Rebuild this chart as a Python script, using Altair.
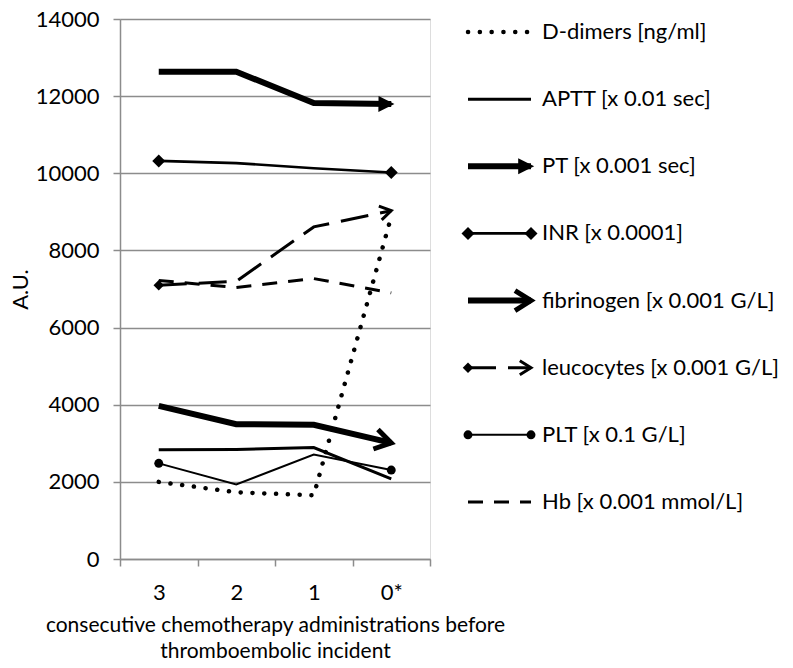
import math
import altair as alt
import pandas as pd

# ---------------- data ----------------
categories = ["3", "2", "1", "0*"]
d_dimers   = [2000, 1730, 1650, 8880]
aptt       = [2830, 2840, 2890, 2080]
pt         = [12635, 12635, 11820, 11795]
inr        = [10320, 10265, 10130, 10020]
fibrinogen = [3970, 3495, 3480, 3010]
leucocytes = [7100, 7200, 8610, 9030]
plt_count  = [2480, 1930, 2710, 2305]
hb         = [7220, 7040, 7270, 6900]

series_keys = ["ddimer", "aptt", "pt", "inr", "fib", "leuco", "plt", "hb"]
series_labels = ["D-dimers [ng/ml]", "APTT [x 0.01 sec]", "PT [x 0.001 sec]",
                 "INR [x 0.0001]", "fibrinogen [x 0.001 G/L]",
                 "leucocytes [x 0.001 G/L]", "PLT [x 0.1 G/L]",
                 "Hb [x 0.001 mmol/L]"]
series_values = [d_dimers, aptt, pt, inr, fibrinogen, leucocytes, plt_count, hb]
y_ticks = [0, 2000, 4000, 6000, 8000, 10000, 12000, 14000]
x_title = ["consecutive chemotherapy administrations before",
           "thromboembolic incident"]
y_title = "A.U."

# ---------------- styles ----------------
W, H = 310, 540
YMAX = 14000
STEP = W / len(categories)
GRAY = "#8c8c8c"
FONT = "Lato"
FS = 22

styles = {
    "ddimer": dict(strokeWidth=4.5, strokeDash=[0.1, 11.7], strokeCap="round"),
    "aptt":   dict(strokeWidth=3),
    "pt":     dict(strokeWidth=6),
    "inr":    dict(strokeWidth=2.7),
    "fib":    dict(strokeWidth=6),
    "leuco":  dict(strokeWidth=3, strokeDash=[28, 12]),
    "plt":    dict(strokeWidth=2),
    "hb":     dict(strokeWidth=3, strokeDash=[15, 11]),
}
TRI = "M-1.6,-1L0.4,0L-1.6,1Z"
CHEV = "M-1.6,-1L0,0L-1.6,1"
arrows = {
    "pt":    dict(shape=TRI, size=256, filled=True, strokeWidth=0),
    "fib":   dict(shape=CHEV, size=400, filled=False, strokeWidth=5),
    "leuco": dict(shape=CHEV, size=196, filled=False, strokeWidth=3),
}
markers = {
    "inr":   [("diamond", 170, "first_last")],
    "plt":   [("circle", 80, "first_last")],
    "leuco": [("diamond", 110, "first")],
}

rows = []
n = len(categories)
for key, vals in zip(series_keys, series_values):
    for i, (c, v) in enumerate(zip(categories, vals)):
        rows.append(dict(series=key, cat=c, idx=i, value=v,
                         first=(i == 0), last=(i == n - 1)))
df = pd.DataFrame(rows)

x_enc = alt.X("cat:N", sort=categories,
              scale=alt.Scale(type="band", domain=categories, paddingInner=0, paddingOuter=0),
              axis=alt.Axis(title=x_title, tickBand="extent", ticks=True, tickSize=7,
                            tickColor=GRAY, tickWidth=1.5, domainColor=GRAY, domainWidth=1.5,
                            labelAngle=0, labelPadding=16, labelFontSize=FS, labelFont=FONT,
                            labelColor="#000", titleFontSize=21, titleFont=FONT,
                            titleColor="#000", titleFontWeight="normal", titlePadding=11,
                            titleLineHeight=26, grid=False))
y_enc = alt.Y("value:Q",
              scale=alt.Scale(domain=[0, YMAX], nice=False, zero=True),
              axis=alt.Axis(title=y_title, values=y_ticks, format="d", grid=True,
                            gridColor=GRAY, gridWidth=1.5, tickSize=7, tickColor=GRAY,
                            tickWidth=1.5, domainColor=GRAY, domainWidth=1.5,
                            labelPadding=14, labelFontSize=FS, labelFont=FONT,
                            labelColor="#000", titleFontSize=FS, titleFont=FONT,
                            titleColor="#000", titleFontWeight="normal", titlePadding=3))


def which_expr(which, first_field, last_field):
    if which == "first":
        return f"datum.{first_field}"
    if which == "last":
        return f"datum.{last_field}"
    return f"(datum.{first_field} || datum.{last_field})"


base = alt.Chart(df)
main_layers = []
for key in series_keys:
    sub = base.transform_filter(f"datum.series == '{key}'")
    main_layers.append(sub.mark_line(color="black", **styles[key]).encode(x=x_enc, y=y_enc))
for key, specs in markers.items():
    for shape, size, which in specs:
        main_layers.append(
            base.transform_filter(f"datum.series == '{key}' && " + which_expr(which, "first", "last"))
            .mark_point(shape=shape, size=size, filled=True, color="black", opacity=1)
            .encode(x=x_enc, y=y_enc))
for key, a in arrows.items():
    vals = series_values[series_keys.index(key)]
    ang = math.degrees(math.atan2((vals[-2] - vals[-1]) * H / YMAX, STEP)) % 360
    main_layers.append(
        base.transform_filter(f"datum.series == '{key}' && datum.last")
        .mark_point(shape=a["shape"], size=a["size"], filled=a["filled"],
                    strokeWidth=a["strokeWidth"], color="black", opacity=1,
                    angle=ang, strokeJoin="miter")
        .encode(x=x_enc, y=y_enc))
main = alt.layer(*main_layers)

# ---------------- legend (own scales, drawn right of the plot) ----------------
LX_START, LX_LEN = 348, 63       # px offsets of symbol start / length from plot left
LY_START, LY_STEP = 13, 67.14    # px of first item / spacing from plot top
lx_dom = [-LX_START / LX_LEN, (W - LX_START) / LX_LEN]
ly_dom = [-LY_START / LY_STEP, (H - LY_START) / LY_STEP]

lrows = []
for i, (key, lab) in enumerate(zip(series_keys, series_labels)):
    for xx in (0, 1):
        lrows.append(dict(series=key, label=lab, item=i, lx=xx,
                          first=(xx == 0), last=(xx == 1)))
ldf = pd.DataFrame(lrows)
lx_enc = alt.X("lx:Q", scale=alt.Scale(domain=lx_dom, nice=False, zero=False), axis=None)
ly_enc = alt.Y("item:Q", scale=alt.Scale(domain=ly_dom, nice=False, zero=False, reverse=True), axis=None)
lbase = alt.Chart(ldf)
leg_layers = []
for key in series_keys:
    leg_layers.append(lbase.transform_filter(f"datum.series == '{key}'")
                      .mark_line(color="black", **styles[key]).encode(x=lx_enc, y=ly_enc))
for key, specs in markers.items():
    for shape, size, which in specs:
        leg_layers.append(
            lbase.transform_filter(f"datum.series == '{key}' && " + which_expr(which, "first", "last"))
            .mark_point(shape=shape, size=size, filled=True, color="black", opacity=1)
            .encode(x=lx_enc, y=ly_enc))
for key, a in arrows.items():
    leg_layers.append(
        lbase.transform_filter(f"datum.series == '{key}' && datum.last")
        .mark_point(shape=a["shape"], size=a["size"], filled=a["filled"],
                    strokeWidth=a["strokeWidth"], color="black", opacity=1,
                    strokeJoin="miter")
        .encode(x=lx_enc, y=ly_enc))
leg_layers.append(
    lbase.transform_filter("datum.last")
    .mark_text(align="left", baseline="middle", dx=11, font=FONT, fontSize=22, color="black")
    .encode(x=lx_enc, y=ly_enc, text="label:N"))
legend = alt.layer(*leg_layers)

chart = (alt.layer(main, legend)
         .resolve_scale(x="independent", y="independent")
         .properties(width=W, height=H,
                     padding={"left": 112, "top": 11, "right": 355, "bottom": 101},
                     autosize=alt.AutoSizeParams(type="none"))
         .configure_view(stroke=None)
         .configure(background="white"))

chart.save("out.html", embed_options={"renderer": "svg", "actions": False})
